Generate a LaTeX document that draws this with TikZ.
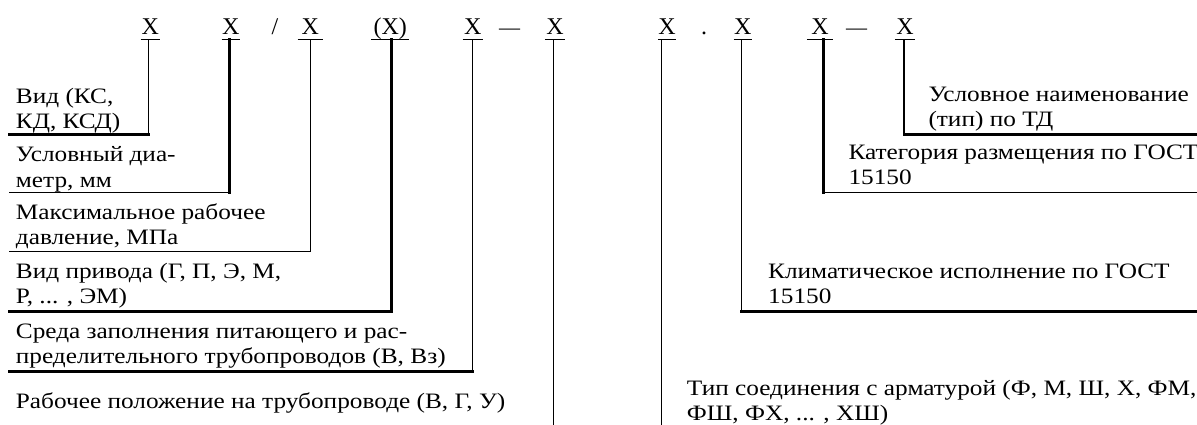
\documentclass[tikz,border=0pt]{standalone}
\usepackage{fontspec}
\setmainfont{Liberation Serif}[FakeStretch=1.15]
\newfontfamily\symfont{Liberation Serif}
\begin{document}
\begin{tikzpicture}[x=1pt,y=-1pt,
  sym/.style={anchor=south,inner xsep=0pt,inner ysep=4.5pt,text depth=0pt,font=\symfont\fontsize{24}{26}\selectfont},
  dsh/.style={anchor=south,inner xsep=0pt,inner ysep=4.5pt,text depth=0pt,font=\symfont\fontsize{21}{24}\selectfont},
  lbl/.style={anchor=base west,inner sep=0pt,align=left,font=\fontsize{22}{25}\selectfont},
  uline/.style={line width=1.4pt},
  thinln/.style={line width=1.3pt,line cap=rect},
  thickln/.style={line width=3pt,line cap=rect}]
\useasboundingbox (0,0) rectangle (1197,425);
% top symbols
\node[sym,minimum width=19pt] (s1) at (150.3,39.3) {X};
\node[sym,minimum width=18pt] (s2) at (230.8,39.3) {X};
\node[sym] (sl) at (275,39.3) {/};
\node[sym,minimum width=25pt] (s3) at (310.2,39.3) {X};
\node[sym,minimum width=38pt] (s4) at (390.2,39.3) {(X)};
\node[sym,minimum width=20pt] (s5) at (472.7,39.3) {X};
\node[dsh] (d1) at (509.5,39.3) {—};
\node[sym,minimum width=20pt] (s6) at (555,39.3) {X};
\node[sym,minimum width=18pt] (s7) at (667,39.3) {X};
\node[sym] (dot) at (704,39.3) {.};
\node[sym,minimum width=18pt] (s8) at (742.8,39.3) {X};
\node[sym,minimum width=26pt] (s9) at (820,39.3) {X};
\node[dsh] (d2) at (856.5,39.3) {—};
\node[sym,minimum width=20pt] (s10) at (905,39.3) {X};
\foreach \s in {s1,s2,s3,s4,s5,s6,s7,s8,s9,s10}
  \draw[uline] (\s.south west) -- (\s.south east);
% connector tops
\coordinate (v1) at (148.3,39.3);
\coordinate (v2) at (229.3,39.3);
\coordinate (v3) at (310.5,39.3);
\coordinate (v4) at (391.2,39.3);
\coordinate (v5) at (472.7,39.3);
\coordinate (v6) at (553.3,39.3);
\coordinate (v7) at (661.7,39.3);
\coordinate (v8) at (741.7,39.3);
\coordinate (v9) at (823.3,39.3);
\coordinate (v10) at (904,39.3);
% corners and line ends
\coordinate (k1) at (148.3,134.3); \coordinate (e1) at (9.3,134.3);
\coordinate (k2) at (229.3,192.7); \coordinate (e2) at (9.3,192.7);
\coordinate (k3) at (310.5,251.7); \coordinate (e3) at (9.3,251.7);
\coordinate (k4) at (391.2,311.2); \coordinate (e4) at (9.3,311.2);
\coordinate (k5) at (472.7,371.7); \coordinate (e5) at (9.3,371.7);
\coordinate (b6) at (553.3,425);
\coordinate (b7) at (661.7,425);
\coordinate (k8) at (741.7,311.7); \coordinate (e8) at (1197,311.7);
\coordinate (k9) at (823.3,192.7); \coordinate (e9) at (1197,192.7);
\coordinate (k10) at (904,134.3); \coordinate (e10) at (1197,134.3);
% labels (anchored at the baseline of the last line)
\node[lbl] (l1) at (15.7,128.7) {Вид (КС,\\КД, КСД)};
\node[lbl] (l2) at (15.7,187) {Условный диа-\\метр, мм};
\node[lbl] (l3) at (15.7,244) {Максимальное рабочее\\давление, МПа};
\node[lbl] (l4) at (15.7,303.7) {Вид привода (Г, П, Э, М,\\Р, ... , ЭМ)};
\node[lbl] (l5) at (15.7,363.7) {Среда заполнения питающего и рас-\\пределительного трубопроводов (В, Вз)};
\node[lbl] (l6) at (15.7,408.7) {Рабочее положение на трубопроводе (В, Г, У)};
\node[lbl] (l7) at (686.7,420) {Тип соединения с арматурой (Ф, М, Ш, Х, ФМ,\\ФШ, ФХ, ... , ХШ)};
\node[lbl] (l8) at (768,303.7) {Климатическое исполнение по ГОСТ\\15150};
\node[lbl] (l9) at (848.3,185) {Категория размещения по ГОСТ\\15150};
\node[lbl] (l10) at (928.3,127) {Условное наименование\\(тип) по ТД};
% connectors
\draw[thinln] (v1) -- (k1); \draw[thickln] (k1) -- (e1);
\draw[thickln] (v2) -- (k2); \draw[thinln] (k2) -- (e2);
\draw[thinln] (v3) -- (k3); \draw[thinln] (k3) -- (e3);
\draw[thickln] (v4) -- (k4); \draw[thickln] (k4) -- (e4);
\draw[thinln] (v5) -- (k5); \draw[thickln] (k5) -- (e5);
\draw[thinln] (v6) -- (b6);
\draw[thinln] (v7) -- (b7);
\draw[thinln] (v8) -- (k8); \draw[thickln] (k8) -- (e8);
\draw[thickln] (v9) -- (k9); \draw[thinln] (k9) -- (e9);
\draw[thinln] (v10) -- (k10); \draw[thickln] (k10) -- (e10);
\end{tikzpicture}
\end{document}
